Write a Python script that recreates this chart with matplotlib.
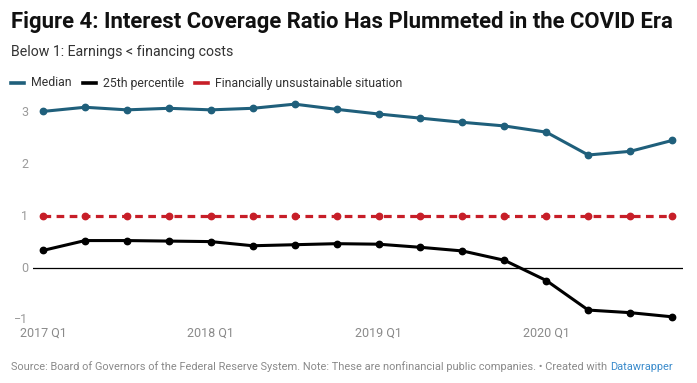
import matplotlib
matplotlib.use('Agg')
import matplotlib.pyplot as plt
import numpy as np

plt.rcParams['font.family'] = ['Roboto', 'DejaVu Sans']

quarters = ['2017 Q1', '2017 Q2', '2017 Q3', '2017 Q4',
            '2018 Q1', '2018 Q2', '2018 Q3', '2018 Q4',
            '2019 Q1', '2019 Q2', '2019 Q3', '2019 Q4',
            '2020 Q1', '2020 Q2', '2020 Q3', '2020 Q4']
median = [3.02, 3.10, 3.05, 3.08, 3.05, 3.08, 3.16, 3.06,
          2.97, 2.89, 2.81, 2.74, 2.62, 2.18, 2.25, 2.46]
p25 = [0.34, 0.53, 0.53, 0.52, 0.51, 0.43, 0.45, 0.47,
       0.46, 0.40, 0.33, 0.15, -0.24, -0.81, -0.86, -0.94]
threshold = [1.0] * len(quarters)
tick_labels = ['2017 Q1', '2018 Q1', '2019 Q1', '2020 Q1']
y_ticks = [-1, 0, 1, 2, 3]

blue = '#1f5f7b'
red = '#c71e28'

W, H = 697, 383
fig = plt.figure(figsize=(W / 100, H / 100), dpi=100)
ax = fig.add_axes([33 / W, 1 - 322 / H, (683 - 33) / W, (322 - 100) / H])

x = np.arange(len(quarters))
ax.plot(x, threshold, color=red, lw=2.3, ls=(0, (2.4, 1.7)), marker='o', ms=4.6, zorder=3)
ax.plot(x, median, color=blue, lw=2.2, marker='o', ms=4.6, zorder=4, solid_joinstyle='round')
ax.plot(x, p25, color='black', lw=2.2, marker='o', ms=4.6, zorder=4, solid_joinstyle='round')
ax.axhline(0, color='black', lw=0.9, zorder=2)

ax.set_xlim(-0.24, 15.26)
ax.set_ylim(-1.04, 3.24)
for s in ax.spines.values():
    s.set_visible(False)
ax.set_xticks([])
ax.set_yticks([])

# y labels
for v in y_ticks:
    ax.text(-0.35, v, '\u2212' + str(-v) if v < 0 else str(v), ha='right', va='center',
            fontsize=9, color='#9a9a9a', transform=ax.transData)
# x labels
for lab in tick_labels:
    i = quarters.index(lab)
    ax.annotate(lab, xy=(i, 0), xycoords=('data', 'figure fraction'),
                xytext=(0, (H - 333) * 0.72), textcoords='offset points',
                ha='center', va='center', fontsize=9, color='#8a8a8a')

fig.text(11 / W, 1 - 22 / H, 'Figure 4: Interest Coverage Ratio Has Plummeted in the COVID Era',
         fontsize=15.9, fontweight='bold', color='#111111', va='center', ha='left')
fig.text(11 / W, 1 - 52 / H, 'Below 1: Earnings < financing costs',
         fontsize=10.2, color='#333333', va='center', ha='left')

# legend
leg_items = [('Median', blue), ('25th percentile', 'black'),
             ('Financially unsustainable situation', red)]
lx = 11
for name, col in leg_items:
    fig.add_artist(plt.Line2D([lx / W, (lx + 13) / W], [1 - 83 / H] * 2, color=col, lw=2.6))
    t = fig.text((lx + 20) / W, 1 - 83 / H, name, fontsize=8.8, color='#333333',
                 va='center', ha='left')
    fig.canvas.draw()
    bb = t.get_window_extent()
    lx = bb.x1 + 11

src = fig.text(11 / W, 1 - 367 / H,
               'Source: Board of Governors of the Federal Reserve System. Note: These are nonfinancial public companies. \u2022 Created with ',
               fontsize=7.95, color='#8a8a8a', va='center', ha='left')
fig.canvas.draw()
bb = src.get_window_extent()
fig.text(bb.x1 / W, 1 - 367 / H, 'Datawrapper', fontsize=7.95, color='#3c8ccc', va='center', ha='left')

fig.savefig('out.png', dpi=100)
